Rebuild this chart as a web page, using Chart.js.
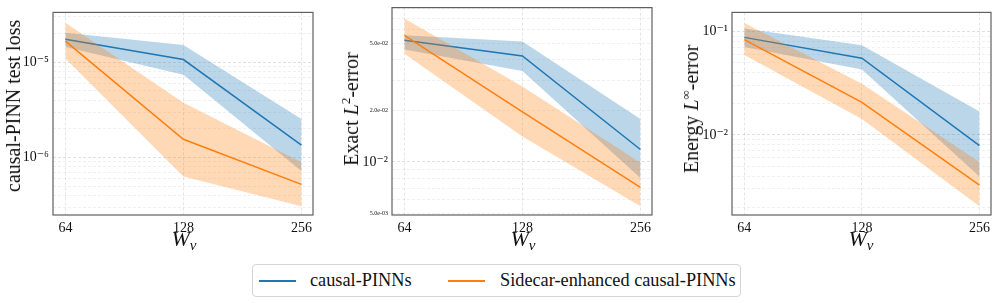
<!DOCTYPE html>
<html>
<head>
<meta charset="utf-8">
<script src="https://cdn.jsdelivr.net/npm/chart.js@4.4.1/dist/chart.umd.min.js"></script>
<style>
  html, body { margin: 0; padding: 0; background: #fff; }
  #wrap { position: relative; width: 996px; height: 303px; overflow: hidden; font-family: 'Liberation Serif', 'DejaVu Serif', serif; color: #111; }
  .pane { position: absolute; top: 0; }
  .ytitle { position: absolute; font-size: 20px; white-space: nowrap; transform: translate(-50%, -50%) rotate(-90deg); line-height: 1; }
  .xtitle { position: absolute; top: 228px; font-size: 22px; transform: translateX(-50%); line-height: 1; font-style: italic; white-space: nowrap; }
  .xtitle sub { font-size: 15px; vertical-align: -4px; }
  .ytitle sup { font-size: 13px; vertical-align: 8px; }
  #legend { position: absolute; left: 252px; top: 264px; width: 489px; height: 33px; border: 1px solid #d5d5d5; border-radius: 4px; box-sizing: border-box; font-size: 18.3px; }
  .item { position: absolute; top: 5px; line-height: 20px; white-space: nowrap; }
  .swatch { position: absolute; top: 15px; width: 37px; height: 2px; }
</style>
</head>
<body>
<div id="wrap">
  <div class="pane" style="left:8px"><canvas id="c1" width="310" height="240"></canvas></div>
  <div class="pane" style="left:347px"><canvas id="c2" width="310" height="240"></canvas></div>
  <div class="pane" style="left:687px"><canvas id="c3" width="309" height="240"></canvas></div>

  <div class="ytitle" style="left:13px;top:106px">causal-PINN test loss</div>
  <div class="ytitle" style="left:350px;top:109px">Exact <i>L</i><sup>2</sup>-error</div>
  <div class="ytitle" style="left:690px;top:109px">Energy <i>L</i><sup>∞</sup>-error</div>

  <div class="xtitle" style="left:184px"><i>W</i><sub>v</sub></div>
  <div class="xtitle" style="left:523px"><i>W</i><sub>v</sub></div>
  <div class="xtitle" style="left:861px"><i>W</i><sub>v</sub></div>

  <div id="legend">
    <div class="swatch" style="left:6px;background:#1f77b4"></div>
    <div class="item" style="left:57px">causal-PINNs</div>
    <div class="swatch" style="left:195px;background:#ff7f0e"></div>
    <div class="item" style="left:247px">Sidecar-enhanced causal-PINNs</div>
  </div>
</div>

<script>
// network widths on the x axis
const widths = [64, 128, 256];

// panel 1: causal-PINN test loss
const lossBase   = [1.75e-5, 1.07e-5, 1.35e-6];
const lossBaseLo = [1.45e-5, 7.4e-6, 7.2e-7];
const lossBaseHi = [2.05e-5, 1.52e-5, 2.54e-6];
const lossSide   = [1.67e-5, 1.55e-6, 5.2e-7];
const lossSideLo = [1.1e-5, 6.3e-7, 3.06e-7];
const lossSideHi = [2.6e-5, 3.76e-6, 8.9e-7];
const lossTicks  = [1e-6, 1e-5];
const lossLabels = ['10⁻⁶', '10⁻⁵'];

// panel 2: exact L2 error
const l2Base   = [0.0519, 0.042, 0.01184];
const l2BaseLo = [0.0458, 0.0343, 0.00805];
const l2BaseHi = [0.0556, 0.0511, 0.0179];
const l2Side   = [0.0555, 0.0197, 0.0071];
const l2SideLo = [0.0432, 0.0141, 0.0055];
const l2SideHi = [0.0698, 0.0278, 0.0099];
const l2Ticks  = [0.005, 0.01, 0.02, 0.05];
const l2Labels = ['5.0e-03', '10⁻²', '2.0e-02', '5.0e-02'];

// panel 3: energy L-inf error
const enBase   = [0.088, 0.0553, 0.0079];
const enBaseLo = [0.071, 0.0431, 0.00396];
const enBaseHi = [0.107, 0.0737, 0.0169];
const enSide   = [0.0837, 0.0207, 0.00327];
const enSideLo = [0.0594, 0.0143, 0.00204];
const enSideHi = [0.121, 0.0313, 0.00546];
const enTicks  = [0.01, 0.1];
const enLabels = ['10⁻²', '10⁻¹'];

const BLUE = '#1f77b4';
const ORANGE = '#ff7f0e';
const BLUE_FILL = 'rgba(31,119,180,0.3)';
const ORANGE_FILL = 'rgba(255,127,14,0.3)';
const FONT = "'Liberation Serif', 'DejaVu Serif', serif";

// gridline positions at 1..9 x 10^k inside the axis range
function logGrid(min, max) {
  const out = [];
  for (let e = Math.floor(Math.log10(min)); e <= Math.ceil(Math.log10(max)); e++) {
    for (let k = 1; k <= 9; k++) {
      const v = k * Math.pow(10, e);
      if (v >= min && v <= max) out.push(v);
    }
  }
  return out;
}

function isMajor(v) {
  const l = Math.log10(v);
  return Math.abs(l - Math.round(l)) < 1e-9;
}

const framePlugin = {
  id: 'frame',
  afterDraw(chart) {
    const a = chart.chartArea;
    const ctx = chart.ctx;
    ctx.save();
    ctx.strokeStyle = '#606060';
    ctx.lineWidth = 1.2;
    ctx.strokeRect(a.left, a.top, a.right - a.left, a.bottom - a.top);
    ctx.restore();
  }
};

function band(hi, lo, color, order) {
  return [
    { data: hi, borderWidth: 0, borderColor: 'transparent', pointRadius: 0, fill: false, order: order },
    { data: lo, borderWidth: 0, borderColor: 'transparent', pointRadius: 0, backgroundColor: color, fill: '-1', order: order }
  ];
}

function panel(id, s, yMin, yMax, tickVals, tickLabels, smallLabels) {
  const grid = logGrid(yMin, yMax);
  const datasets = [].concat(
    band(s.baseHi, s.baseLo, BLUE_FILL, 4),
    band(s.sideHi, s.sideLo, ORANGE_FILL, 2),
    [
      { label: 'causal-PINNs', data: s.base, borderColor: BLUE, borderWidth: 1.5, pointRadius: 0, fill: false, order: 3 },
      { label: 'Sidecar-enhanced causal-PINNs', data: s.side, borderColor: ORANGE, borderWidth: 1.5, pointRadius: 0, fill: false, order: 1 }
    ]
  );
  datasets.forEach(function (d) {
    d.data = d.data.map(function (y, i) { return { x: widths[i], y: y }; });
    d.tension = 0;
  });

  return new Chart(document.getElementById(id), {
    type: 'line',
    data: { datasets: datasets },
    plugins: [framePlugin],
    options: {
      responsive: false,
      animation: false,
      layout: { padding: { left: 0, right: 5, top: 4, bottom: 0 } },
      plugins: { legend: { display: false }, tooltip: { enabled: false } },
      scales: {
        x: {
          type: 'logarithmic',
          min: 59.5,
          max: 274,
          afterBuildTicks: function (axis) {
            axis.ticks = widths.map(function (v) { return { value: v }; });
          },
          afterFit: function (axis) { axis.height = 25; },
          ticks: {
            autoSkip: false,
            maxRotation: 0,
            padding: 5,
            color: '#111',
            font: { family: FONT, size: 14 },
            callback: function (v) { return String(v); }
          },
          grid: { color: 'rgba(0,0,0,0.1)', drawTicks: false },
          border: { display: false, dash: [3, 2] }
        },
        y: {
          type: 'logarithmic',
          min: yMin,
          max: yMax,
          afterBuildTicks: function (axis) {
            axis.ticks = grid.map(function (v) { return { value: v }; });
          },
          afterFit: function (axis) { axis.width = 45; },
          ticks: {
            autoSkip: false,
            padding: 4,
            color: '#111',
            font: function (c) {
              const v = c.tick ? c.tick.value : 1;
              return { family: FONT, size: (smallLabels && !isMajor(v)) ? 6 : 14 };
            },
            callback: function (v) {
              for (let i = 0; i < tickVals.length; i++) {
                if (Math.abs(v - tickVals[i]) / tickVals[i] < 1e-6) return tickLabels[i];
              }
              return '';
            }
          },
          grid: {
            drawTicks: false,
            color: function (c) {
              const v = c.tick ? c.tick.value : 1;
              return isMajor(v) ? 'rgba(0,0,0,0.12)' : 'rgba(0,0,0,0.06)';
            }
          },
          border: { display: false, dash: [3, 2] }
        }
      }
    }
  });
}

panel('c1', { base: lossBase, baseLo: lossBaseLo, baseHi: lossBaseHi, side: lossSide, sideLo: lossSideLo, sideHi: lossSideHi },
  2.48e-7, 3.35e-5, lossTicks, lossLabels, false);
panel('c2', { base: l2Base, baseLo: l2BaseLo, baseHi: l2BaseHi, side: l2Side, sideLo: l2SideLo, sideHi: l2SideHi },
  0.00488, 0.0808, l2Ticks, l2Labels, true);
panel('c3', { base: enBase, baseLo: enBaseLo, baseHi: enBaseHi, side: enSide, sideLo: enSideLo, sideHi: enSideHi },
  0.00168, 0.1535, enTicks, enLabels, false);
</script>
</body>
</html>
